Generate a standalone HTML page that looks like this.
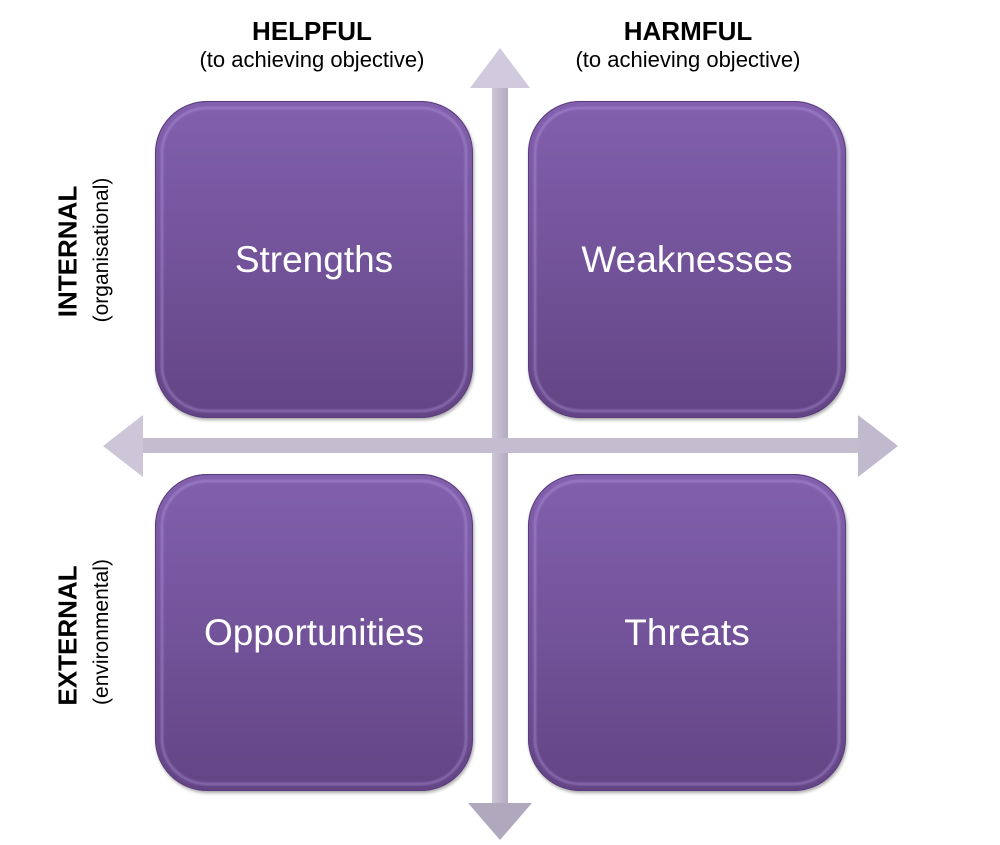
<!DOCTYPE html>
<html><head><style>
body{margin:0;width:1000px;height:845px;background:#fff;position:relative;overflow:hidden;font-family:"Liberation Sans",sans-serif}
.box{position:absolute;width:318px;height:317px;border-radius:52px;background:linear-gradient(#8260ad,#634585);box-shadow:inset 0 0 0 1px #5a3c7c,1px 2px 3px rgba(0,0,0,.35);color:#fff;font-size:37px;display:flex;align-items:center;justify-content:center}
.box:before{content:"";position:absolute;left:6px;top:6px;right:6px;bottom:6px;border-radius:46px;border:2px solid rgba(190,160,235,.55);filter:blur(1px)}
.h{position:absolute;text-align:center;width:340px;color:#000}
.h b{font-size:26px;display:block}
.h span{font-size:22px}
.v{position:absolute;transform:rotate(-90deg);transform-origin:center;text-align:center;width:300px;color:#000;white-space:nowrap}
</style></head><body>
<svg width="1000" height="845" style="position:absolute;left:0;top:0">
<defs><linearGradient id="g" x1="0" y1="0" x2="1" y2="0"><stop offset="0" stop-color="#cdc6d8"/><stop offset="1" stop-color="#b3abc0"/></linearGradient></defs>
<rect x="492" y="86" width="16" height="720" fill="url(#g)"/>
<polygon points="500,48 530,88 470,88" fill="#d1cade"/>
<polygon points="500,840 532,803 468,803" fill="#b0a8bd"/>
<rect x="140" y="438" width="720" height="15" fill="#c4bdd0"/>
<polygon points="103,446 143,415 143,477" fill="#cdc6d8"/>
<polygon points="898,446 858,415 858,477" fill="#c1b9cd"/>
</svg>
<div class="box" style="left:155px;top:101px">Strengths</div>
<div class="box" style="left:528px;top:101px">Weaknesses</div>
<div class="box" style="left:155px;top:474px">Opportunities</div>
<div class="box" style="left:528px;top:474px">Threats</div>
<div class="h" style="left:142px;top:16px"><b>HELPFUL</b><span>(to achieving objective)</span></div>
<div class="h" style="left:518px;top:16px"><b>HARMFUL</b><span>(to achieving objective)</span></div>
<div class="v" style="left:-82px;top:236px;font-size:26px;font-weight:bold">INTERNAL</div>
<div class="v" style="left:-48px;top:238px;font-size:21px">(organisational)</div>
<div class="v" style="left:-82px;top:620px;font-size:26px;font-weight:bold">EXTERNAL</div>
<div class="v" style="left:-48px;top:620px;font-size:21px">(environmental)</div>
</body></html>
